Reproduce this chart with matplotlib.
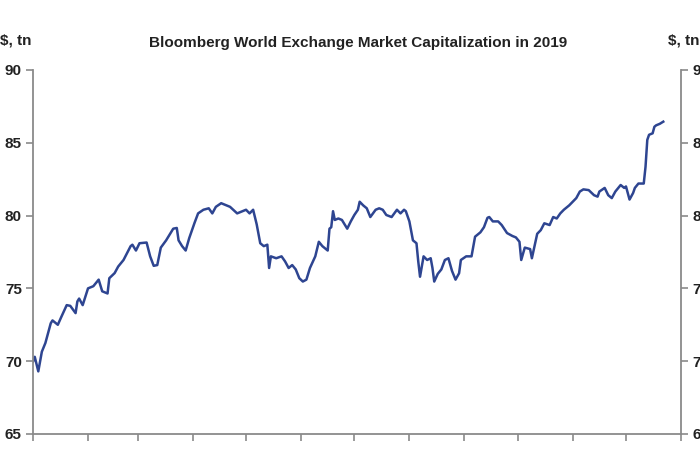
import matplotlib
matplotlib.use("Agg")
import matplotlib.pyplot as plt

# Day of year (2019) and market capitalization, $ tn
days = [0, 1, 3, 5, 7, 10, 11, 13, 14, 16, 19, 21, 24, 25, 26, 28, 31, 34, 37, 39,
        42, 43, 46, 48, 51, 55, 56, 58, 60, 64, 66, 68, 70, 72, 75, 79, 81, 82, 84, 86,
        88, 91, 93, 96, 99, 101, 103, 106, 109, 111, 115, 118, 120, 122, 124, 126, 128, 130, 132, 133,
        134, 137, 140, 142, 144, 146, 148, 150, 152, 154, 156, 159, 161, 163, 166, 167, 168, 169, 170, 172,
        174, 177, 179, 181, 183, 184, 186, 188, 190, 193, 195, 197, 199, 202, 205, 207, 209, 210, 212, 214,
        216, 217, 218, 220, 222, 224, 225, 226, 228, 230, 232, 234, 236, 238, 240, 241, 244, 247, 249, 252,
        254, 256, 257, 259, 262, 264, 267, 270, 272, 274, 275, 277, 280, 281, 284, 286, 288, 291, 293, 295,
        297, 299, 301, 302, 304, 306, 308, 310, 313, 316, 318, 319, 322, 324, 326, 328, 331, 333, 334, 336,
        338, 339, 341, 344, 345, 346, 347, 349, 350, 351, 353, 355]
values = [69.97, 70.3, 69.3, 70.65, 71.25, 72.6, 72.8, 72.6, 72.5, 73.05, 73.85, 73.8, 73.3, 74.1, 74.3, 73.85, 75.0, 75.15, 75.6, 74.8,
          74.65, 75.7, 76.05, 76.5, 76.95, 77.9, 78.0, 77.6, 78.1, 78.15, 77.2, 76.55, 76.6, 77.8, 78.3, 79.1, 79.15, 78.3, 77.9, 77.6,
          78.45, 79.5, 80.15, 80.4, 80.5, 80.15, 80.6, 80.85, 80.7, 80.6, 80.15, 80.3, 80.4, 80.15, 80.4, 79.4, 78.1, 77.9, 78.0, 76.4,
          77.2, 77.07, 77.2, 76.85, 76.4, 76.6, 76.3, 75.7, 75.47, 75.6, 76.4, 77.2, 78.2, 77.9, 77.6, 79.1, 79.2, 80.3, 79.7, 79.8,
          79.7, 79.1, 79.6, 80.04, 80.4, 80.95, 80.7, 80.5, 79.9, 80.4, 80.5, 80.4, 80.04, 79.9, 80.4, 80.15, 80.4, 80.3, 79.6, 78.3,
          78.1, 76.85, 75.8, 77.2, 76.95, 77.07, 76.4, 75.47, 76.0, 76.3, 76.95, 77.07, 76.2, 75.6, 76.04, 76.95, 77.2, 77.2, 78.55, 78.85,
          79.2, 79.85, 79.9, 79.6, 79.6, 79.35, 78.8, 78.6, 78.5, 78.2, 76.95, 77.8, 77.7, 77.07, 78.75, 79.0, 79.47, 79.35, 79.9, 79.8,
          80.15, 80.4, 80.6, 80.7, 80.95, 81.2, 81.65, 81.8, 81.75, 81.4, 81.3, 81.65, 81.9, 81.4, 81.2, 81.65, 82.1, 81.9, 82.0, 81.1,
          81.55, 81.9, 82.2, 82.2, 83.35, 85.2, 85.55, 85.65, 86.1, 86.2, 86.3, 86.45]

month_starts = [0, 31, 59, 90, 120, 151, 181, 212, 243, 273, 304, 334, 365]
y_ticks = [65, 70, 75, 80, 85, 90]
title = "Bloomberg World Exchange Market Capitalization in 2019"
unit = "$, tn"

plt.rcParams['font.family'] = ['Liberation Sans', 'DejaVu Sans']
spine_col = '#8a8a8a'
text_col = '#222222'

fig = plt.figure(figsize=(7, 4.5), dpi=100)
ax = fig.add_axes([0.0471, 0.0356, 0.9258, 0.8089])
ax.plot(days, values, color='#2e4591', lw=1.8, solid_joinstyle='round')

ax.set_xlim(0, 365)
ax.set_ylim(65, 90)
ax.set_xticks(month_starts)
ax.set_xticklabels([])
ax.set_yticks(y_ticks)
ax.set_yticklabels([str(v) for v in y_ticks], fontsize=11, fontweight='bold', color=text_col)

for s in ['left', 'bottom', 'right']:
    ax.spines[s].set_color(spine_col)
    ax.spines[s].set_linewidth(1.3)
ax.spines['top'].set_visible(False)
ax.tick_params(axis='x', direction='out', length=5, width=1.2, color=spine_col)
ax.tick_params(axis='y', direction='out', length=5, width=1.2, color=spine_col, pad=3)

ax2 = ax.twinx()
ax2.set_ylim(65, 90)
ax2.set_yticks(y_ticks)
ax2.set_yticklabels([str(v) for v in y_ticks], fontsize=11, fontweight='bold', color=text_col)
ax2.tick_params(axis='y', direction='out', length=5, width=1.2, color=spine_col, pad=3)
for s in ['left', 'bottom', 'right', 'top']:
    ax2.spines[s].set_visible(False)

fig.text(0.512, 0.905, title, ha='center', va='center', fontsize=11, fontweight='bold', color=text_col)
fig.text(0.0, 0.91, unit, ha='left', va='center', fontsize=11, fontweight='bold', color=text_col)
fig.text(0.955, 0.91, unit, ha='left', va='center', fontsize=11, fontweight='bold', color=text_col)

fig.savefig('out.png', dpi=100)
